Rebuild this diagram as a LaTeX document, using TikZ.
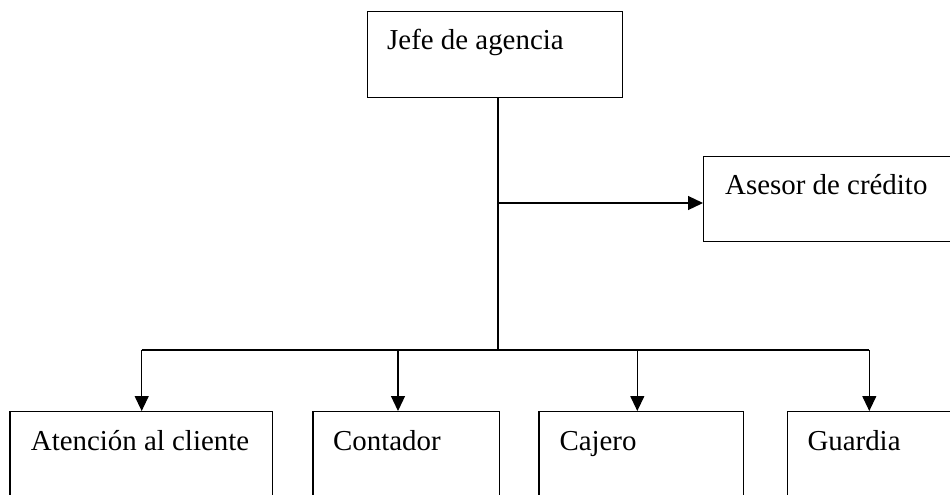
\documentclass[tikz,border=0pt]{standalone}
\usepackage{fontspec}
\setmainfont{Liberation Serif}
\usetikzlibrary{arrows.meta}
\tikzset{
  box/.style={draw=black, line width=1.3pt, anchor=north west, inner sep=0pt},
  lbl/.style={anchor=base west, inner sep=0pt, font=\fontsize{28.9}{34}\selectfont},
  conn/.style={line width=1.2pt},
  arr/.style={line width=1.2pt, -{Triangle[length=15pt,width=14pt]}}
}
\begin{document}
\begin{tikzpicture}[x=1pt,y=-1pt]
\clip (0,0) rectangle (950,495);
\fill[white] (0,0) rectangle (950,495);
% boxes
\node[box, minimum width=255pt, minimum height=86pt] (jefe) at (367,11) {};
\node[box, minimum width=260pt, minimum height=85pt] (ases) at (703,156) {};
\node[box, minimum width=262.4pt, minimum height=100pt] (aten) at (9.3,411) {};
\node[box, minimum width=186.7pt, minimum height=100pt] (cont) at (312.3,411) {};
\node[box, minimum width=204.4pt, minimum height=100pt] (caje) at (538.3,411) {};
\node[box, minimum width=200pt, minimum height=100pt] (guar) at (786.7,411) {};
% labels
\node[lbl] (tjefe) at (387,50) {Jefe de agencia};
\node[lbl] (tases) at (725,194) {Asesor de crédito};
\node[lbl] (taten) at (30.7,450) {Atención al cliente};
\node[lbl] (tcont) at (333,450) {Contador};
\node[lbl] (tcaje) at (559.3,450) {Cajero};
\node[lbl] (tguar) at (807.3,450) {Guardia};
% connector points
\coordinate (trunk) at (498,350);
\coordinate (side) at (498,203);
\coordinate (bl) at (141.7,350);
\coordinate (b2) at (398,350);
\coordinate (b3) at (637.3,350);
\coordinate (br) at (869.3,350);
% connectors
\draw[conn] (jefe.south -| trunk) -- (trunk);
\draw[arr] (side) -- (side -| ases.west);
\draw[conn] (bl) -- (br);
\draw[arr] (bl) -- (bl |- aten.north);
\draw[arr] (b2) -- (b2 |- cont.north);
\draw[arr] (b3) -- (b3 |- caje.north);
\draw[arr] (br) -- (br |- guar.north);
\end{tikzpicture}
\end{document}
